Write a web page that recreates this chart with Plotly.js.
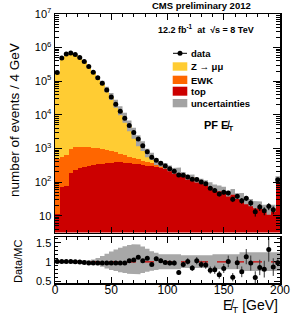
<!DOCTYPE html>
<html><head><meta charset="utf-8">
<script src="https://cdn.plot.ly/plotly-3.0.1.min.js"></script>
<style>html,body{margin:0;padding:0;background:#fff}</style>
</head><body><div id="plot" style="width:297px;height:315px"></div>
<script>
// ---- data ----
const binCenters = [2,6,10,14,18,22,26,30,34,38,42,46,50,54,58,62,66,70,74,78,82,86,90,94,98,102,106,110,114,118,122,126,130,134,138,142,146,150,154,158,162,166,170,174,178,182,186,190,194,198];
const binWidth = 4;
const dataCounts = [183000,490000,646000,692000,624000,507000,384000,272000,185000,126000,86500,55100,33900,20800,12800,7910,4860,2990,1905,1213,802,547,445,361,303,251,211,163,159,142,121,120,100,89,66,56,44,50,47,31,38,28,33,24,13,18,14,19,15,117];
const dataErr = [428,700,804,832,790,712,620,522,430,355,294,235,184,144,113,89,70,55,44,35,28,23,21,19,17,16,15,13,13,12,11,11,10,9,8,7.5,6.6,7.1,6.9,5.6,6.2,5.3,5.7,4.9,3.6,4.2,3.7,4.4,3.9,10.8];
const topCounts = [11,71,76,186,229,263,282,302,324,339,355,372,380,389,389,380,372,355,339,324,309,295,282,263,240,214,195,190,158,130,128,105,96,86,74,63,58,53,41,46,34,33,25,22,19,18,14,11,13,105];
const ewkCounts = [490,491,555,769,843,859,840,794,723,661,578,499,433,370,303,251,203,170,140,113,89,77,65,53,42,31,18,20,8,7,10,8,8,8,7,6,6,5,4,4,4,4,3,2,2,2,2,2.5,3,10];
const zmmCounts = [180150,483100,637100,682100,620400,507900,387900,279600,189900,129000,88340,55990,34170,20710,12520,7532,4139,2328,1225,740,336,214,64,34,25,14,5,15,4,3,6,3,3,3,3,2,2,2,1,2,1,1,1,1,1,1,1,0.5,1,5];
const uncUp = [0.03,0.03,0.03,0.03,0.03,0.03,0.03,0.04,0.06,0.10,0.15,0.21,0.27,0.32,0.37,0.41,0.44,0.46,0.45,0.40,0.34,0.28,0.24,0.20,0.20,0.20,0.20,0.20,0.17,0.17,0.17,0.17,0.17,0.17,0.17,0.20,0.20,0.20,0.20,0.20,0.20,0.25,0.25,0.25,0.25,0.25,0.25,0.25,0.25,0.25];
const uncDown = [0.03,0.03,0.03,0.03,0.03,0.03,0.03,0.04,0.06,0.09,0.13,0.17,0.21,0.24,0.27,0.29,0.31,0.32,0.32,0.29,0.26,0.23,0.21,0.19,0.19,0.19,0.19,0.19,0.16,0.16,0.16,0.16,0.16,0.16,0.16,0.19,0.19,0.19,0.19,0.19,0.19,0.24,0.24,0.24,0.24,0.24,0.24,0.24,0.24,0.24];
const ratioVals = [1.013,1.013,1.013,1.013,1.004,0.996,0.987,0.969,0.969,0.969,0.969,0.969,0.969,0.969,0.969,0.969,1.031,1.048,1.118,1.031,1.092,0.934,1.083,1.031,0.987,0.969,0.969,0.724,0.934,1.013,0.838,1.031,0.934,0.917,0.785,0.794,0.662,0.829,1.013,0.601,0.978,0.741,1.136,0.969,0.592,0.855,0.811,1.320,0.864,0.978];
const ratioErr = [0.002,0.002,0.002,0.002,0.002,0.002,0.002,0.002,0.002,0.003,0.003,0.004,0.005,0.007,0.009,0.011,0.015,0.019,0.026,0.03,0.038,0.04,0.051,0.054,0.057,0.062,0.067,0.058,0.074,0.085,0.076,0.095,0.093,0.097,0.095,0.106,0.10,0.118,0.15,0.108,0.159,0.139,0.197,0.196,0.164,0.2,0.218,0.314,0.229,0.09];
const yTickVals = [10,100,1e3,1e4,1e5,1e6,1e7];
const yTickText = ['10','10<sup>2</sup>','10<sup>3</sup>','10<sup>4</sup>','10<sup>5</sup>','10<sup>6</sup>','10<sup>7</sup>'];
const xTickVals = [0,50,100,150,200];

// ---- derived ----
const mcTotal = binCenters.map((c,i)=>topCounts[i]+ewkCounts[i]+zmmCounts[i]);
function bandPoly(hiArr, loArr){
  const xs=[], ys=[];
  binCenters.forEach((c,i)=>{ xs.push(c-binWidth/2, c+binWidth/2); ys.push(hiArr[i], hiArr[i]); });
  for(let i=binCenters.length-1;i>=0;i--){ const c=binCenters[i]; xs.push(c+binWidth/2, c-binWidth/2); ys.push(loArr[i], loArr[i]); }
  return {xs, ys};
}
const mainBand = bandPoly(mcTotal.map((m,i)=>m*(1+uncUp[i])), mcTotal.map((m,i)=>m*(1-uncDown[i])));
const ratioBand = bandPoly(uncUp.map(u=>1+u), uncDown.map(d=>1-d));

const FONT = 'Liberation Sans, Arial, Helvetica, sans-serif';
const W=297,H=315,L=55,R=17,T=14,B=32;
const px = v => (v-L)/(W-L-R);
const py = v => (H-B-v)/(H-T-B);

const barCommon = {type:'bar', x:binCenters, width:binWidth, xaxis:'x', yaxis:'y', hoverinfo:'skip', showlegend:false};
const traces = [
  Object.assign({}, barCommon, {y:topCounts, marker:{color:'#cc0000', line:{width:0}}, name:'top'}),
  Object.assign({}, barCommon, {y:ewkCounts, marker:{color:'#ff6600', line:{width:0}}, name:'EWK'}),
  Object.assign({}, barCommon, {y:zmmCounts, marker:{color:'#ffcc33', line:{width:0}}, name:'Z'}),
  {type:'scatter', mode:'lines', x:mainBand.xs, y:mainBand.ys, fill:'toself', fillcolor:'#a3a3a3', line:{width:0}, xaxis:'x', yaxis:'y', hoverinfo:'skip', showlegend:false},
  {type:'scatter', mode:'markers', x:binCenters, y:dataCounts, error_y:{type:'data', array:dataErr, color:'#000', thickness:1, width:0}, marker:{color:'#000', size:5}, xaxis:'x', yaxis:'y', showlegend:false},
  {type:'scatter', mode:'lines', x:ratioBand.xs, y:ratioBand.ys, fill:'toself', fillcolor:'#a8a8a8', line:{width:0}, xaxis:'x2', yaxis:'y2', hoverinfo:'skip', showlegend:false},
  {type:'scatter', mode:'lines', x:[0,200], y:[1,1], line:{color:'#cc0000', width:1.2, dash:'dash'}, xaxis:'x2', yaxis:'y2', showlegend:false},
  {type:'scatter', mode:'markers', x:binCenters, y:ratioVals, error_y:{type:'data', array:ratioErr, color:'#333', thickness:1, width:0}, marker:{color:'#000', size:5}, xaxis:'x2', yaxis:'y2', showlegend:false}
];

function ann(text, x, y, size, xanchor, extra){
  return Object.assign({text, x:px(x), y:py(y), xref:'paper', yref:'paper', xanchor:xanchor||'center', yanchor:'middle', showarrow:false, font:{size, family:FONT, color:'#000'}}, extra||{});
}

const axBase = {showline:true, linecolor:'#000', linewidth:1.5, mirror:'ticks', ticks:'inside', tickcolor:'#000', showgrid:false, zeroline:false, tickfont:{family:FONT, size:11, color:'#000'}};
const layout = {
  width:W, height:H, margin:{l:L, r:R, t:T, b:B}, paper_bgcolor:'#fff', plot_bgcolor:'#fff',
  barmode:'stack', bargap:0, showlegend:false, font:{family:FONT, color:'#000'},
  xaxis: Object.assign({}, axBase, {anchor:'y', range:[0,200], tickvals:xTickVals, showticklabels:false, ticklen:6, minor:{ticks:'inside', ticklen:3, dtick:10, tickcolor:'#000'}}),
  yaxis: Object.assign({}, axBase, {anchor:'x', domain:[py(232.5),1], type:'log', range:[0.5,7.0], tickvals:yTickVals, ticktext:yTickText, ticklen:7, minor:{ticks:'inside', ticklen:4, dtick:'D1', tickcolor:'#000'}}),
  xaxis2: Object.assign({}, axBase, {anchor:'y2', range:[0,200], tickvals:xTickVals, ticklen:6, ticklabelstandoff:-5, minor:{ticks:'inside', ticklen:3, dtick:10, tickcolor:'#000'}, tickfont:{family:FONT, size:12, color:'#000'}}),
  yaxis2: Object.assign({}, axBase, {anchor:'x2', domain:[0,py(237.3)], range:[0.45,1.64], tickvals:[0.5,1,1.5], ticktext:['0.5','1','1.5'], ticklen:6, minor:{ticks:'inside', ticklen:3, dtick:0.1, tickcolor:'#000'}}),
  annotations: [
    ann('<b>CMS preliminary 2012</b>', 201, 6, 9.5),
    ann('<b>12.2 fb<sup>-1</sup>  at  √s = 8 TeV</b>', 206, 29, 9),
    ann('<b>data</b>', 189, 53.3, 9.5, 'left'),
    ann('<b>Z → μμ</b>', 189, 66.5, 9.5, 'left'),
    ann('<b>EWK</b>', 189, 80, 9.5, 'left'),
    ann('<b>top</b>', 189, 91.2, 9.5, 'left'),
    ann('<b>uncertainties</b>', 189, 103.2, 9.5, 'left'),
    ann('<b>PF E\u0338<sub>T</sub></b>', 218, 126, 11),
    ann('number of events / 4 GeV', 14, 120, 13.5, 'center', {textangle:-90}),
    ann('Data/MC', 18, 262, 11, 'center', {textangle:-90}),
    ann('E\u0338<sub>T</sub> [GeV]', 280, 305.5, 14, 'right')
  ],
  shapes: [
    {type:'line', xref:'paper', yref:'paper', x0:px(173), x1:px(187), y0:py(53.3), y1:py(53.3), line:{color:'#000', width:1}},
    {type:'circle', xref:'paper', yref:'paper', x0:px(177.5), x1:px(182.5), y0:py(55.8), y1:py(50.8), fillcolor:'#000', line:{width:0}},
    {type:'rect', xref:'paper', yref:'paper', x0:px(172.7), x1:px(187.3), y0:py(70.7), y1:py(62.3), fillcolor:'#ffcc33', line:{width:0}},
    {type:'rect', xref:'paper', yref:'paper', x0:px(172.7), x1:px(187.3), y0:py(84), y1:py(75.7), fillcolor:'#ff6600', line:{width:0}},
    {type:'rect', xref:'paper', yref:'paper', x0:px(172.7), x1:px(187.3), y0:py(95.7), y1:py(86.7), fillcolor:'#cc0000', line:{width:0}},
    {type:'rect', xref:'paper', yref:'paper', x0:px(172.7), x1:px(187.3), y0:py(107.3), y1:py(99), fillcolor:'#a3a3a3', line:{width:0}}
  ]
};
Plotly.newPlot('plot', traces, layout, {staticPlot:true, displayModeBar:false});
</script></body></html>
